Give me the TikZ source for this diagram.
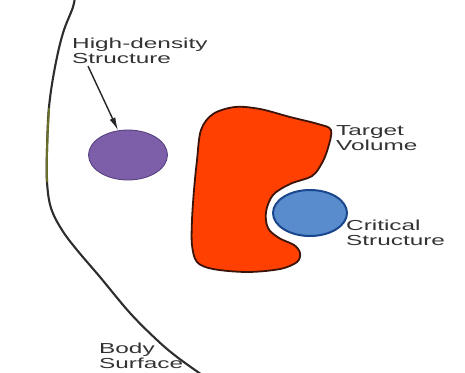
\documentclass[tikz,border=0pt]{standalone}
\usepackage{fontspec}
\setmainfont{Liberation Sans}[FakeStretch=1.68]
\usepackage{xcolor}
\usepackage{tikz}
\usetikzlibrary{arrows.meta,positioning,shapes.geometric,calc}
\definecolor{tvred}{RGB}{255,64,0}
\definecolor{tvedge}{RGB}{60,20,10}
\definecolor{hdpurple}{RGB}{125,94,168}
\definecolor{hdedge}{RGB}{80,60,120}
\definecolor{csblue}{RGB}{88,140,205}
\definecolor{csedge}{RGB}{25,70,140}
\definecolor{skin}{RGB}{45,45,45}
\definecolor{skinolive}{RGB}{105,110,40}

\begin{document}
\begin{tikzpicture}[x=1pt,y=-1pt,
    lbl/.style={anchor=north west,inner sep=0pt,align=left,text=black!80,font=\fontsize{14.5}{15}\selectfont},
    blob/.style={ellipse,draw,inner sep=0pt}]
  \useasboundingbox (0,0) rectangle (465,372);
  \draw[skin,line width=2.1pt] plot[smooth,tension=0.6] coordinates {(75,-5) (73,7) (63,33) (55,67) (49,107) (47,150) (47,182) (51,208) (62,230) (77,250) (100,277) (130,313) (157,340) (177,357) (205,377)};
  \draw[skinolive,line width=2.1pt] plot[smooth,tension=0.6] coordinates {(49,108) (47,150) (47,182)};
  \filldraw[fill=tvred,draw=tvedge,line width=1.8pt] plot[smooth cycle,tension=0.55] coordinates {(213,114) (235,107) (260,109) (290,117) (318,124) (331,130) (328,148) (322,163) (312,176) (290,184) (273,195) (266,212) (268,228) (279,238) (294,245) (300,253) (297,262) (280,269) (247,272) (213,269) (197,262) (192,245) (192,220) (194,190) (197,160) (201,130)};
  \node[blob,fill=hdpurple,draw=hdedge,line width=0.8pt,minimum width=79pt,minimum height=50pt] (hd) at (128,155) {};
  \node[blob,fill=csblue,draw=csedge,line width=2pt,minimum width=74pt,minimum height=46pt] (cs) at (310,213) {};
  \node[lbl] (hdlabel) at (72,38) {High-density\\Structure};
  \node[lbl] (tvlabel) at (336,125) {Target\\Volume};
  \node[lbl] (cslabel) at (346,220) {Critical\\Structure};
  \node[lbl] (bslabel) at (99,343) {Body\\Surface};
  \draw[-{Latex[length=13pt,width=6pt]},line width=1.4pt,black!85] ([xshift=16pt,yshift=-2pt]hdlabel.south west) -- (hd.112);
\end{tikzpicture}
\end{document}
